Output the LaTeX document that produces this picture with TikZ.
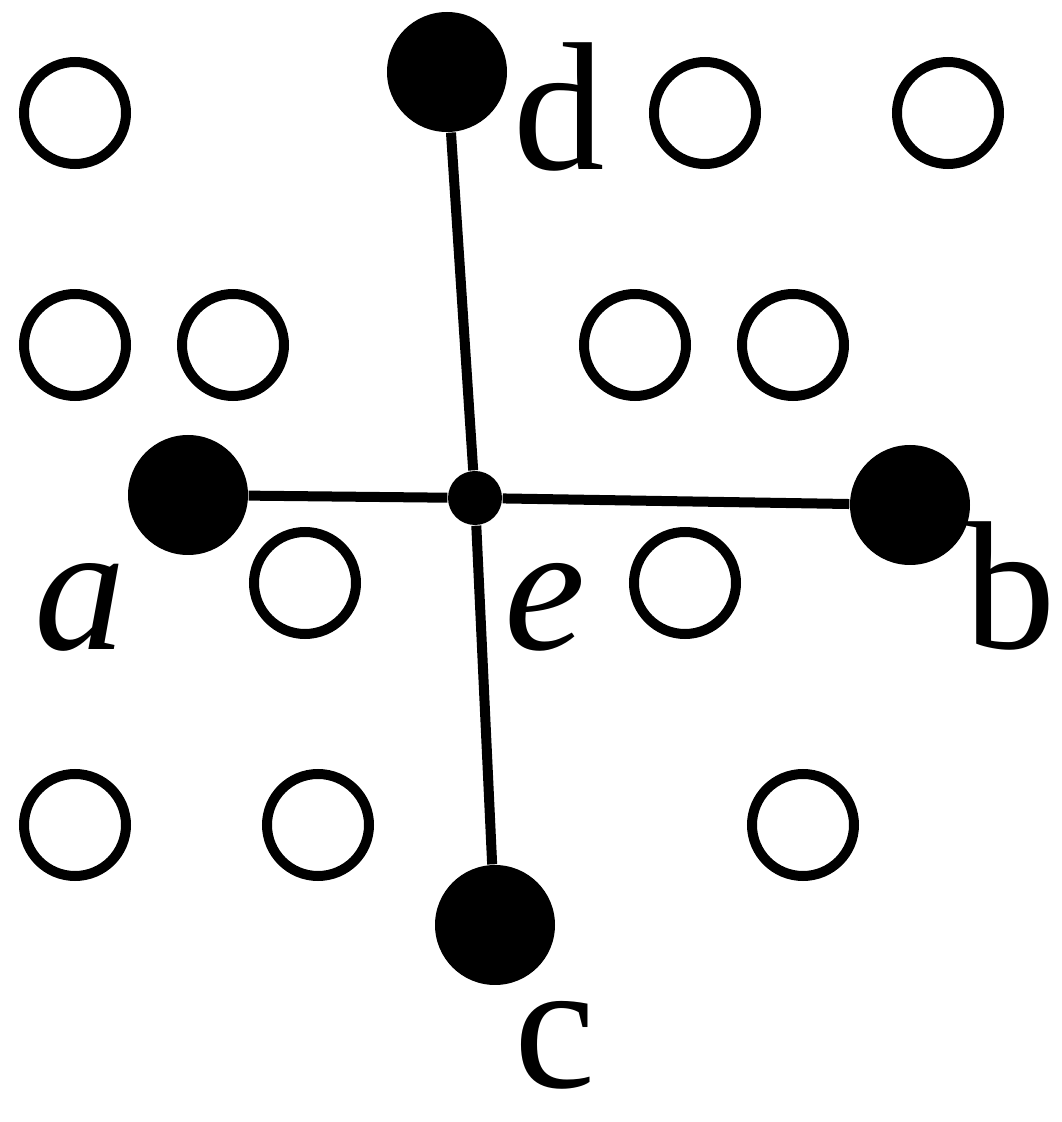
\documentclass[tikz,border=0pt]{standalone}
\usepackage{fontspec}
\setmainfont{Liberation Serif}
\usetikzlibrary{calc}

\tikzset{
leer/.style={circle, draw=black, line width=0.1cm, minimum size=1.02cm, inner sep=0pt},
voll/.style={circle, fill=black, minimum size=1.2cm, inner sep=0pt},
mitte/.style={circle, fill=black, minimum size=0.54cm, inner sep=0pt},
buchstabe/.style={anchor=base, inner sep=0pt, text depth=0pt, font=\fontsize{52}{54}\selectfont},
kante/.style={black, line width=0.1cm}
}

\begin{document}
\begin{tikzpicture}
\useasboundingbox (0cm,0cm) rectangle (10.62cm,11.22cm);
\node[leer] (1) at (0.75 cm,10.09cm) {};
\node[leer] (2) at (7.05 cm,10.09cm) {};
\node[leer] (3) at (9.48 cm,10.09cm) {};
\node[leer] (4) at (0.75 cm,7.77cm) {};
\node[leer] (5) at (2.33 cm,7.77cm) {};
\node[leer] (6) at (6.35 cm,7.77cm) {};
\node[leer] (7) at (7.93 cm,7.77cm) {};
\node[leer] (8) at (3.05 cm,5.39cm) {};
\node[leer] (9) at (6.85 cm,5.39cm) {};
\node[leer] (10) at (0.75 cm,2.97cm) {};
\node[leer] (11) at (3.18 cm,2.97cm) {};
\node[leer] (12) at (8.03 cm,2.97cm) {};
\node[voll] (d) at (4.47 cm,10.50cm) {};
\node[voll] (a) at (1.88 cm,6.27cm) {};
\node[voll] (b) at (9.10 cm,6.17cm) {};
\node[voll] (c) at (4.95 cm,1.97cm) {};
\node[mitte] (e) at (4.75 cm,6.24cm) {};
\draw[kante] (e) -- (d);
\draw[kante] (e) -- (a);
\draw[kante] (e) -- (b);
\draw[kante] (e) -- (c);
\node[buchstabe] (ld) at (5.59 cm,9.52cm) {d};
\node[buchstabe] (la) at (0.80 cm,4.72cm) {\textit{a}};
\node[buchstabe] (le) at (5.45 cm,4.72cm) {\textit{e}};
\node[buchstabe] (lb) at (10.10 cm,4.73cm) {b};
\node[buchstabe] (lc) at (5.55 cm,0.34cm) {c};
\end{tikzpicture}
\end{document}
